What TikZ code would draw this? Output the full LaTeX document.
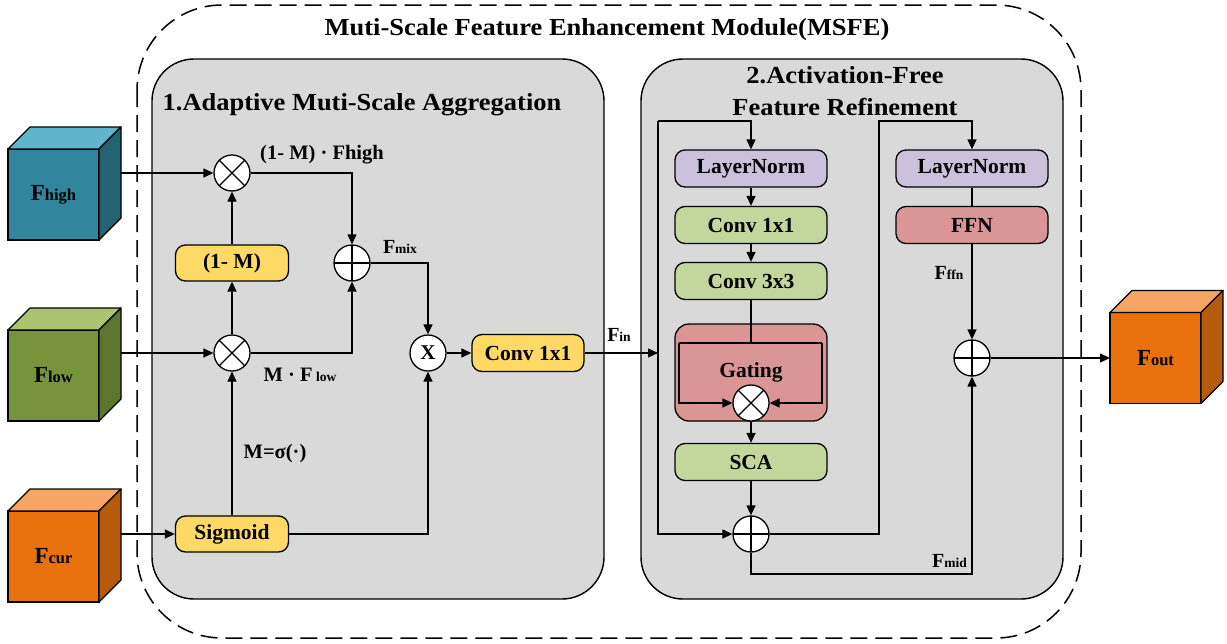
\documentclass[tikz,border=0pt]{standalone}
\usepackage{fontspec}
\setmainfont{Liberation Serif}
\newfontfamily\headfont[FakeStretch=1.08]{Liberation Serif}
\usetikzlibrary{arrows.meta}

\definecolor{panelgray}{HTML}{D9D9D9}
\definecolor{yellowbox}{HTML}{FFD966}
\definecolor{lavbox}{HTML}{CCC1DA}
\definecolor{greenbox}{HTML}{C3D69B}
\definecolor{redbox}{HTML}{D99694}
\definecolor{tealfront}{HTML}{31859C}
\definecolor{tealtop}{HTML}{5FB6CC}
\definecolor{tealside}{HTML}{236373}
\definecolor{olivefront}{HTML}{77933C}
\definecolor{olivetop}{HTML}{AAC473}
\definecolor{oliveside}{HTML}{5E7530}
\definecolor{orangefront}{HTML}{E8700D}
\definecolor{orangetop}{HTML}{F6A662}
\definecolor{orangeside}{HTML}{B65A0C}

\newcommand{\featlabel}[3]{{\fontsize{#1}{#1}\selectfont F}{\fontsize{#2}{#2}\selectfont #3}}
\newcommand{\headtext}[1]{{\headfont\bfseries\fontsize{24.5}{28}\selectfont #1}}

% a feature cube: name, centre x, centre y, front, top, side colours, label
\newcommand{\featcube}[7]{%
  \node[cubefront, fill=#4] (#1) at (#2,#3) {#7};
  \draw[ln, fill=#5, line join=round] (#1.north west) -- ++(22,-22) -- ++(91,0) -- (#1.north east) -- cycle;
  \draw[ln, fill=#6, line join=round] (#1.north east) -- ++(22,-22) -- ++(0,91) -- (#1.south east) -- cycle;
}

\tikzset{
  ln/.style={line width=1.3pt},
  arr/.style={line width=1.3pt, -{Triangle[length=10pt,width=9pt]}},
  panel/.style={draw, line width=1.4pt, fill=panelgray, rounded corners=42pt},
  outerbox/.style={draw, line width=1.5pt, dash pattern=on 17pt off 8pt, rounded corners=85pt},
  box/.style={draw, line width=1.3pt, rounded corners=10pt, inner sep=0pt,
    font=\bfseries\fontsize{21.5}{24}\selectfont},
  ybox/.style={box, fill=yellowbox, minimum width=113pt, minimum height=36pt},
  wbox/.style={box, minimum width=152pt, minimum height=37pt},
  opcirc/.style={circle, draw, fill=white, line width=1.3pt, minimum size=36pt, inner sep=0pt},
  otimes/.style={opcirc, path picture={\draw[line width=1.3pt]
    (path picture bounding box.north west) -- (path picture bounding box.south east)
    (path picture bounding box.north east) -- (path picture bounding box.south west);}},
  oplus/.style={opcirc, path picture={\draw[line width=1.3pt]
    (path picture bounding box.north) -- (path picture bounding box.south)
    (path picture bounding box.west) -- (path picture bounding box.east);}},
  lbl/.style={inner sep=0pt, font=\bfseries\fontsize{20.5}{24}\selectfont},
  cubefront/.style={draw, line width=1.3pt, minimum size=91pt, inner sep=0pt, outer sep=0pt,
    font=\bfseries},
}

\begin{document}
\begin{tikzpicture}[x=1pt, y=-1pt]
\useasboundingbox (0,0) rectangle (1227,643);

% module frame and the two stage panels
\draw[outerbox] (137,5) rectangle (1081,638);
\node[inner sep=0pt] (title) at (607,30) {\headtext{Muti-Scale Feature Enhancement Module(MSFE)}};
\draw[panel] (152,59) rectangle (604,599);
\draw[panel] (641,59) rectangle (1063,599);
\node[inner sep=0pt] (head1) at (362,105) {\headtext{1.Adaptive Muti-Scale Aggregation}};
\node[inner sep=0pt] (head2a) at (845,75) {\headtext{2.Activation-Free}};
\node[inner sep=0pt] (head2b) at (845,107) {\headtext{Feature Refinement}};

% input and output feature maps
\featcube{fhigh}{53.5}{194.5}{tealfront}{tealtop}{tealside}{\featlabel{23}{16.5}{high}}
\featcube{flow}{53.5}{375.5}{olivefront}{olivetop}{oliveside}{\featlabel{23}{16.5}{low}}
\featcube{fcur}{53.5}{556.5}{orangefront}{orangetop}{orangeside}{\featlabel{23}{16.5}{cur}}
\featcube{fout}{1155.5}{358}{orangefront}{orangetop}{orangeside}{\featlabel{23}{16.5}{out}}
\coordinate (fhigh-out) at (121,173);
\coordinate (flow-out) at (121,353);
\coordinate (fcur-out) at (121,534);

% stage 1: adaptive aggregation
\node[otimes] (m1) at (232,173) {};
\node[ybox] (onem) at (232,263) {(1- M)};
\node[otimes] (m2) at (232,353) {};
\node[ybox] (sig) at (232,534) {Sigmoid};
\node[oplus] (p1) at (352,263) {};
\node[opcirc, font=\bfseries\fontsize{21}{24}\selectfont] (mx) at (428,353) {X};
\node[ybox, minimum width=112pt, minimum height=37pt] (conv1) at (528,353) {Conv 1x1};

\draw[arr] (fhigh-out) -- (m1);
\draw[arr] (flow-out) -- (m2);
\draw[arr] (fcur-out) -- (sig);
\draw[arr] (sig) -- (m2);
\draw[arr] (m2) -- (onem);
\draw[arr] (onem) -- (m1);
\draw[arr] (m1) -| (p1);
\draw[arr] (m2) -| (p1);
\draw[arr] (p1) -| (mx);
\draw[arr] (sig) -| (mx);
\draw[arr] (mx) -- (conv1);

\node[lbl] (lhigh) at (322,155) {(1- M) · Fhigh};
\node[lbl] (lmix) at (400,247) {\featlabel{20}{13.5}{mix}};
\node[lbl] (llow) at (300,375) {M · F{\fontsize{13.5}{13.5}\selectfont\ low}};
\node[lbl] (lsig) at (275,454) {M=σ(·)};

% stage 2: activation-free refinement
\coordinate (fin-in) at (658,353);
\coordinate (ltop) at (658,121);
\coordinate (rtop) at (879,121);
\draw[arr] (conv1) -- (fin-in);
\node[lbl] (lin) at (619,335) {\featlabel{20}{13.5}{in}};

\node[wbox, fill=lavbox] (ln1) at (751,168.5) {LayerNorm};
\node[wbox, fill=greenbox] (c11) at (751,225) {Conv 1x1};
\node[wbox, fill=greenbox] (c33) at (751,281) {Conv 3x3};
\node[box, fill=redbox, rounded corners=14pt, minimum width=152pt, minimum height=97pt] (gate) at (751,372.5) {Gating};
\node[wbox, fill=greenbox] (sca) at (751,462) {SCA};
\node[otimes] (gt) at (751,403) {};
\node[oplus] (p2) at (751,534) {};
\coordinate (gl) at (679,343);
\coordinate (gr) at (822,343);
\coordinate (gtop) at (751,343);
\coordinate (mid) at (751,574);

\draw[arr] (ltop) -| (ln1);
\draw[arr] (ltop) |- (p2);
\draw[arr] (ln1) -- (c11);
\draw[arr] (c11) -- (c33);
\draw[ln] (c33) -- (gtop);
\draw[ln] (gl) -- (gr);
\draw[arr] (gl) |- (gt);
\draw[arr] (gr) |- (gt);
\draw[arr] (gt) -- (sca);
\draw[arr] (sca) -- (p2);

\node[wbox, fill=lavbox] (ln2) at (972,168.5) {LayerNorm};
\node[wbox, fill=redbox] (ffn) at (972,225) {FFN};
\node[oplus] (p3) at (972,358) {};

\draw[arr] (p2) -| (rtop) -| (ln2);
\draw[ln] (ln2) -- (ffn);
\draw[arr] (ffn) -- (p3);
\draw[arr] (p2) -- (mid) -| (p3);
\draw[arr] (p3) -- (fout);

\node[lbl] (lffn) at (949,273) {\featlabel{20}{13.5}{ffn}};
\node[lbl, anchor=east] (lmid) at (967,561) {\featlabel{20}{13.5}{mid}};
\end{tikzpicture}
\end{document}
